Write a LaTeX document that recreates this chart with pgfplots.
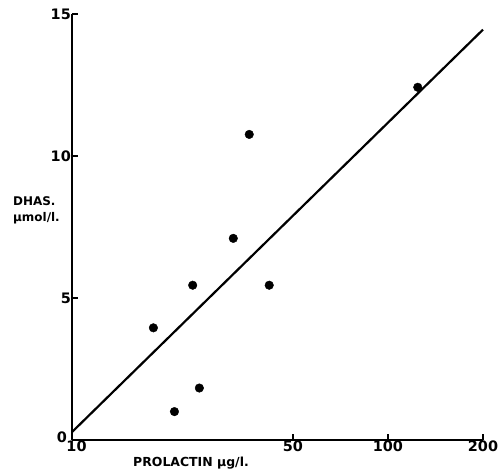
\documentclass[border=0pt]{standalone}
\usepackage{pgfplots}
\pgfplotsset{compat=1.18}
\usepackage{fontspec}
\setmainfont{DejaVu Sans}
\begin{document}
\begin{tikzpicture}
\begin{axis}[
  at={(0,0)}, anchor=south west,
  scale only axis, width=411bp, height=426bp,
  xmode=log, xmin=10, xmax=200, ymin=0, ymax=15,
  axis lines=left,
  axis line style={line width=2.2bp, -},
  xtick={10,50,100,200}, xticklabels={\hspace*{9bp}10,50,100,200},
  ytick={0,5,10,15}, yticklabels={\raisebox{6bp}{0}\hspace*{4bp},5,10,15},
  xminorticks=false, yminorticks=false,
  tick align=inside, major tick length=6bp,
  tick style={line width=1.5bp, black},
  ticklabel style={font=\bfseries\fontsize{14.5}{16}\selectfont},
  xticklabel style={inner sep=1bp},
  yticklabel style={inner sep=1bp},
  clip=false,
]
\addplot[only marks, mark=*, mark size=4.3bp, black] coordinates {
  (18.1,3.95) (21.1,1.0) (24.1,5.45) (25.3,1.83)
  (32.4,7.1) (36.4,10.76) (42.1,5.45) (124.3,12.42)
};
\addplot[black, line width=2.2bp] coordinates {(10,0.28) (200,14.45)};
\node[anchor=west, align=left, inner sep=0, font=\bfseries\fontsize{12}{16}\selectfont]
  at (rel axis cs:-0.1436,0.54) {DHAS.\\μmol/l.};
\node[inner sep=0, font=\bfseries\fontsize{12.5}{14}\selectfont]
  at (rel axis cs:0.2895,-0.054) {PROLACTIN μg/l.};
\end{axis}
\pgfresetboundingbox
\path (-72bp,-33bp) rectangle (430bp,440bp);
\end{tikzpicture}
\end{document}
